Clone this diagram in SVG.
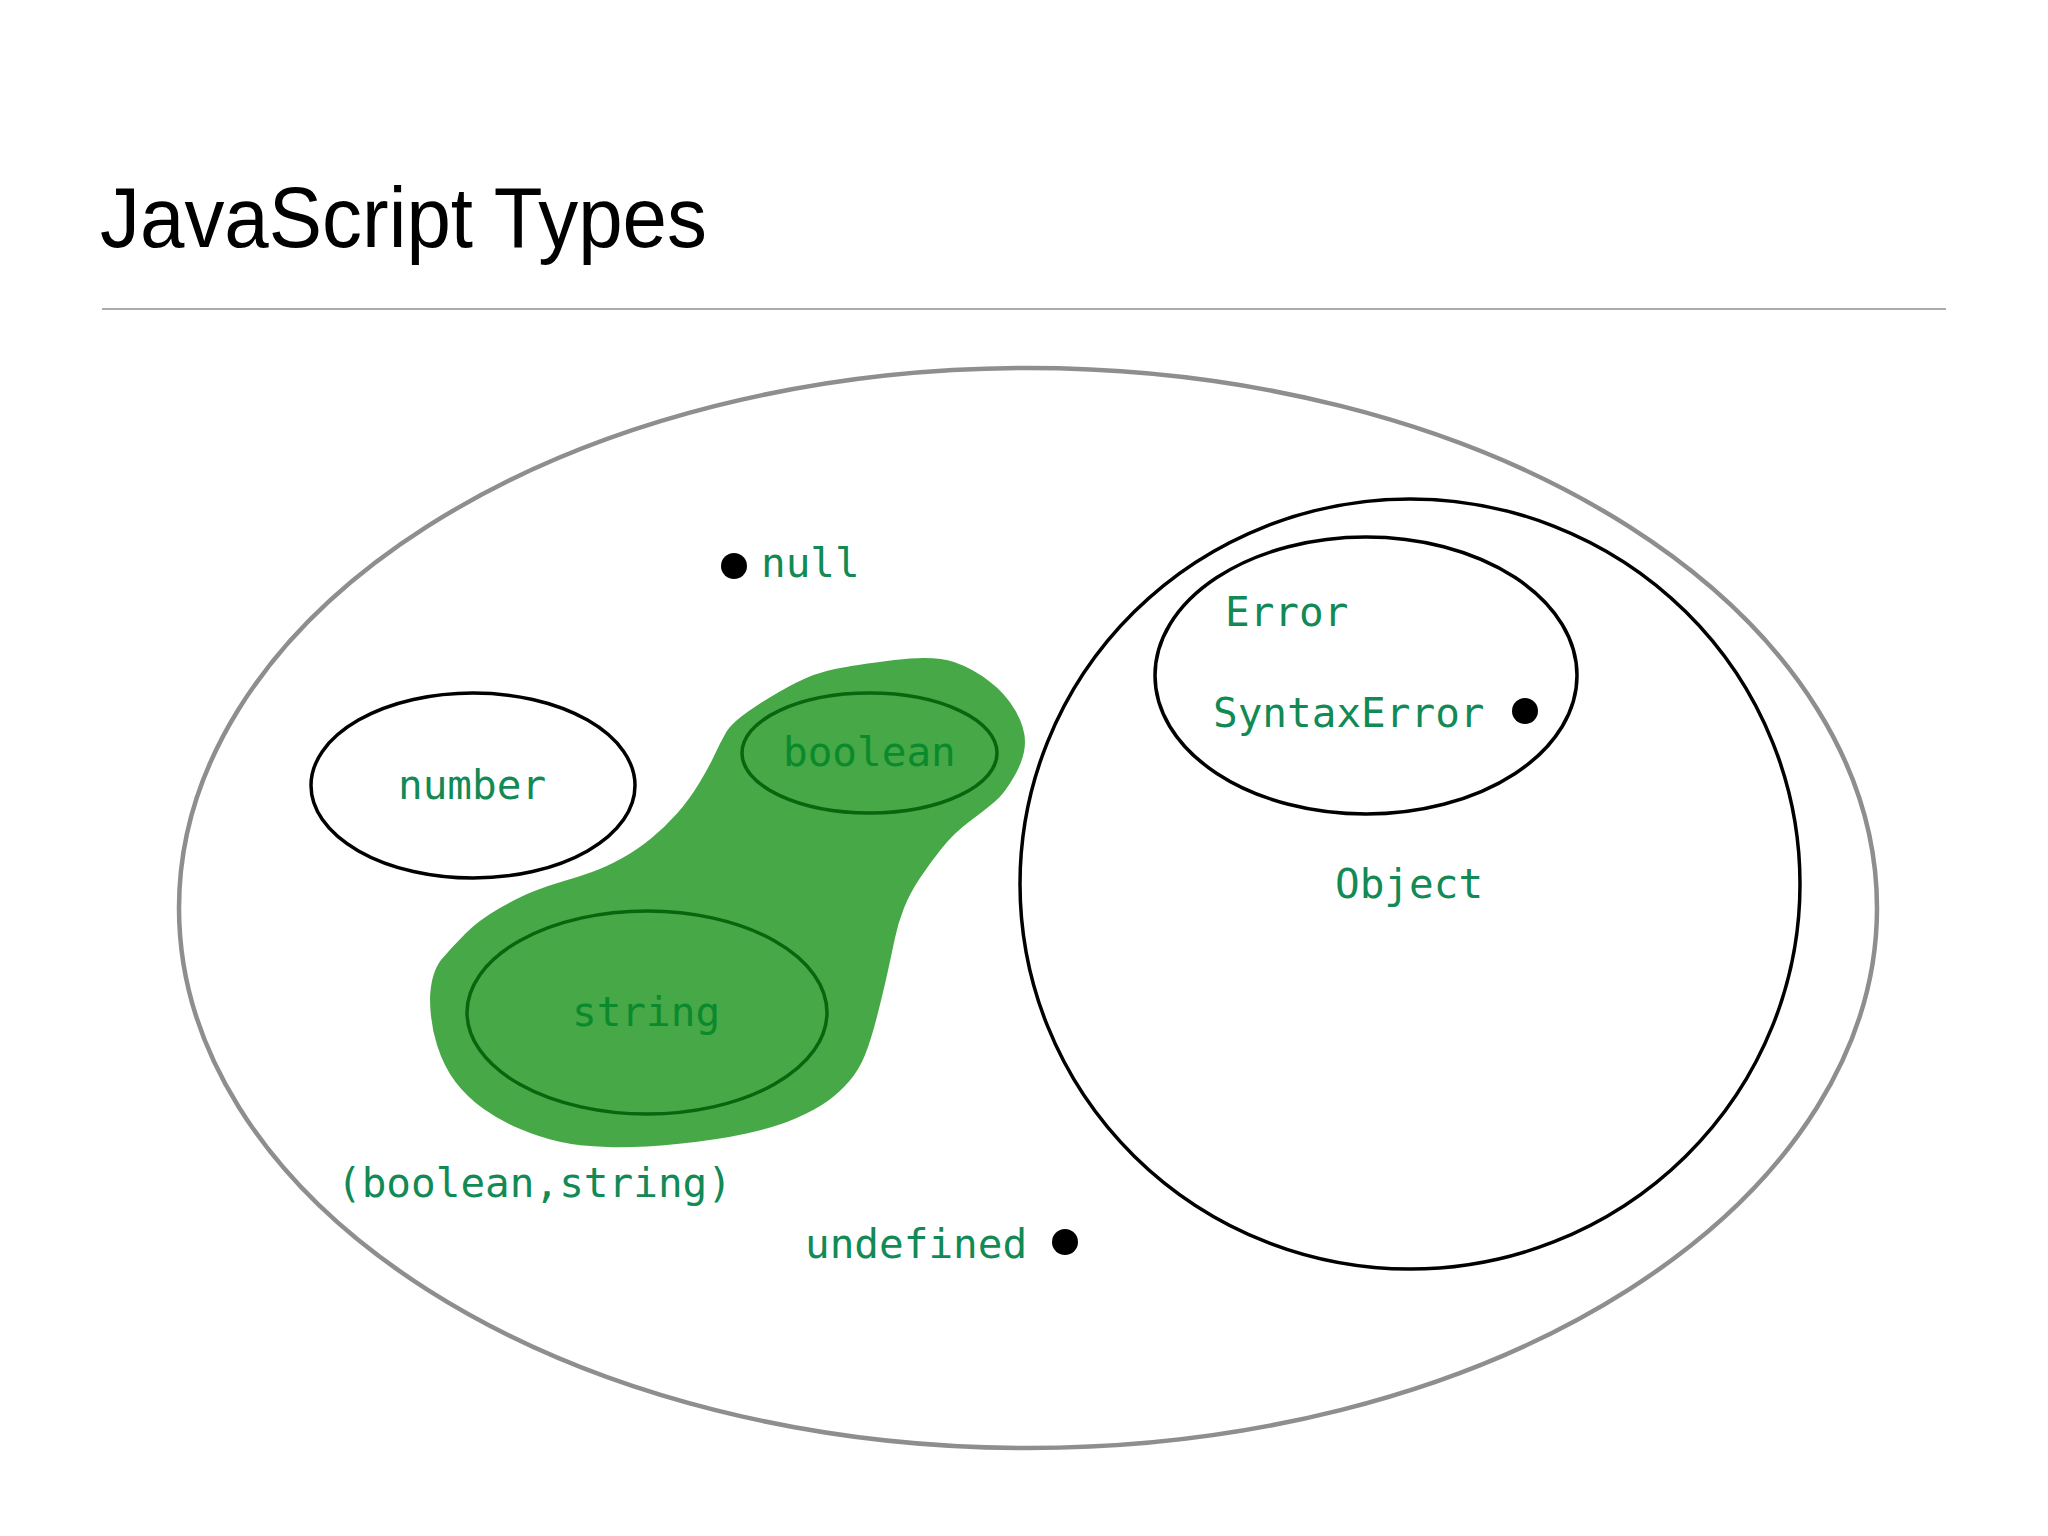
<svg xmlns="http://www.w3.org/2000/svg" width="2048" height="1536" viewBox="0 0 2048 1536">
<style>
.lbl{font-family:"DejaVu Sans Mono","Liberation Mono",monospace;font-size:41px;fill:#128a55}
.inl{font-family:"DejaVu Sans Mono","Liberation Mono",monospace;font-size:41px;fill:#0a8a2c}
.set{fill:none;stroke:#000;stroke-width:3.5}
.sub{fill:none;stroke:#0a650f;stroke-width:3.5}
.dot{fill:#000}
</style>
<rect width="2048" height="1536" fill="#fff"/>
<text x="100" y="247" font-family="Liberation Sans, Arial, sans-serif" font-size="86" fill="#000" textLength="607" lengthAdjust="spacingAndGlyphs">JavaScript Types</text>
<line x1="102" y1="309" x2="1946" y2="309" stroke="#ababab" stroke-width="2"/>
<g id="all">
<ellipse cx="1028" cy="908" rx="849" ry="540" fill="none" stroke="#8e8e8e" stroke-width="4.5"/>
</g>
<g id="primitive-union">
<path fill="#46a846" d="M726,732.5 Q732,722 754,707.5 Q776,693 795.5,683 Q815,673 835,669 Q855,665 894.5,660 Q934,655 954,662 Q974,669 989.5,681.5 Q1005,693 1015,710 Q1025,727 1025,742 Q1025,757 1015,775 Q1005,793 995,801.5 Q985,810 969.5,821.5 Q954,833 942,848 Q930,863 920,878 Q910,893 904,908 Q898,923 894.5,940 Q891,957 887,975 Q883,993 877,1016.5 Q871,1040 865,1055 Q859,1070 849,1081.5 Q839,1093 827,1101.5 Q815,1110 795.5,1118.5 Q776,1127 746.5,1133.5 Q717,1140 677,1144 Q637,1148 607.5,1147 Q578,1146 558.5,1141.5 Q539,1137 519,1128.5 Q499,1120 483,1108.5 Q467,1097 455.5,1082 Q444,1067 437,1045 Q430,1023 430,998 Q431,973 441,960 Q452,947 465.5,933.5 Q479,920 499,908.5 Q519,897 534.5,891 Q550,885 564,881 Q578,877 592,872 Q606,867 621.5,858.5 Q637,850 651,838.5 Q665,827 677,813.5 Q689,800 699,783.5 Q709,767 714.5,755 Q720,743 726,732.5 Z"/>
<text class="lbl" x="337" y="1197">(boolean,string)</text>
</g>
<g id="number">
<ellipse class="set" cx="473" cy="785.5" rx="162" ry="92.5"/>
<text class="lbl" x="398" y="799">number</text>
</g>
<g id="boolean">
<ellipse class="sub" cx="869.5" cy="753" rx="127.5" ry="60"/>
<text class="inl" x="783" y="766">boolean</text>
</g>
<g id="string">
<ellipse class="sub" cx="647" cy="1012.5" rx="180" ry="101.5"/>
<text class="inl" x="572" y="1026">string</text>
</g>
<g id="null">
<circle class="dot" cx="734" cy="566" r="13"/>
<text class="lbl" x="761" y="577">null</text>
</g>
<g id="undefined">
<text class="lbl" x="805" y="1258">undefined</text>
<circle class="dot" cx="1065" cy="1242" r="13"/>
</g>
<g id="object">
<ellipse class="set" cx="1410" cy="884" rx="390" ry="385"/>
<text class="lbl" x="1335" y="898">Object</text>
</g>
<g id="error">
<ellipse class="set" cx="1366" cy="675.5" rx="211" ry="138.5"/>
<text class="lbl" x="1225" y="626">Error</text>
</g>
<g id="syntaxerror">
<text class="lbl" x="1213" y="727">SyntaxError</text>
<circle class="dot" cx="1525" cy="711" r="13"/>
</g>
<g id="connectors"/>
</svg>
